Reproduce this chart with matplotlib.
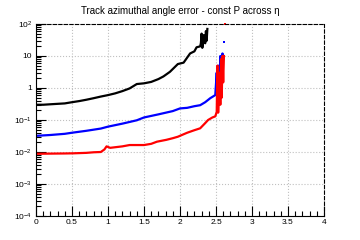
import numpy as np
import matplotlib.pyplot as plt
from matplotlib.ticker import LogLocator, MultipleLocator, NullFormatter

plt.rcParams['font.family'] = ['Liberation Sans', 'DejaVu Sans']
plt.rcParams['mathtext.fontset'] = 'custom'
plt.rcParams['mathtext.rm'] = 'Liberation Sans'
plt.rcParams['mathtext.it'] = 'Liberation Sans'

# black series (highest error)
eta_k = [0.0, 0.1, 0.2, 0.3, 0.4, 0.5, 0.6, 0.7, 0.8, 0.9, 1.0, 1.1, 1.2, 1.3,
         1.4, 1.5, 1.6, 1.7, 1.77, 1.86, 1.97, 2.05, 2.14, 2.2, 2.23, 2.28,
         2.29, 2.30, 2.31, 2.33, 2.35, 2.36, 2.37, 2.38]
err_k = [0.30, 0.30, 0.31, 0.32, 0.33, 0.36, 0.39, 0.43, 0.48, 0.54, 0.60, 0.68,
         0.80, 0.97, 1.33, 1.40, 1.55, 1.9, 2.3, 3.2, 5.6, 6.2, 12, 14, 18.7, 20,
         25, 50, 18, 45, 25, 60, 30, 70]

# blue series
eta_b = [0.0, 0.2, 0.4, 0.5, 0.7, 0.9, 1.0, 1.2, 1.4, 1.5, 1.7, 1.9, 2.0, 2.1,
         2.2, 2.28, 2.35, 2.42, 2.49, 2.51, 2.52, 2.53, 2.55, 2.56, 2.58, 2.59,
         2.60]
err_b = [0.032, 0.034, 0.037, 0.040, 0.046, 0.054, 0.062, 0.077, 0.098, 0.12,
         0.15, 0.19, 0.23, 0.24, 0.27, 0.29, 0.36, 0.48, 0.60, 3.0, 0.7, 5.0,
         1.5, 10, 4.0, 12, 8.0]
eta_b_pt = [2.61]
err_b_pt = [28]

# red series (lowest error)
eta_r = [0.0, 0.2, 0.4, 0.52, 0.7, 0.8, 0.9, 0.95, 0.98, 1.03, 1.2, 1.3, 1.5,
         1.6, 1.68, 1.81, 1.9, 1.97, 2.1, 2.2, 2.28, 2.35, 2.39, 2.45, 2.49,
         2.51, 2.52, 2.53, 2.55, 2.56, 2.57, 2.58, 2.59, 2.60, 2.61]
err_r = [0.0088, 0.0089, 0.0090, 0.0091, 0.0094, 0.0098, 0.010, 0.012, 0.015,
         0.0135, 0.015, 0.0165, 0.0165, 0.018, 0.021, 0.024, 0.027, 0.030,
         0.040, 0.048, 0.055, 0.080, 0.10, 0.12, 0.13, 0.18, 5.0, 0.17, 3.0,
         0.3, 8.0, 0.5, 10, 1.5, 10]
eta_r_pt = [2.63]
err_r_pt = [100]

xticks = [0, 0.5, 1, 1.5, 2, 2.5, 3, 3.5, 4]
xlabels = ['0', '0.5', '1', '1.5', '2', '2.5', '3', '3.5', '4']
yticks = [1e-4, 1e-3, 1e-2, 1e-1, 1, 10, 100]
ylabels = ['$10^{-4}$', '$10^{-3}$', '$10^{-2}$', '$10^{-1}$', '1', '10', '$10^{2}$']

fig = plt.figure(figsize=(3.6, 2.4), dpi=100)
ax = fig.add_axes([0.1, 0.1, 0.8, 0.8])

ax.plot(eta_k, err_k, color='black', lw=1.6)
ax.plot(eta_b, err_b, color='blue', lw=1.6)
ax.plot(eta_r, err_r, color='red', lw=1.6)
ax.plot(eta_b_pt, err_b_pt, 's', color='blue', ms=1.8, mew=0)
ax.plot(eta_r_pt, err_r_pt, 's', color='red', ms=1.8, mew=0, clip_on=False)

ax.set_yscale('log')
ax.set_xlim(0, 4)
ax.set_ylim(1e-4, 1e2)

ax.set_xticks(xticks)
ax.set_xticklabels(xlabels)
ax.xaxis.set_minor_locator(MultipleLocator(0.1))

ax.set_yticks(yticks)
ax.set_yticklabels(ylabels)
ax.yaxis.set_minor_locator(LogLocator(base=10, subs=np.arange(2, 10)))
ax.yaxis.set_minor_formatter(NullFormatter())

ax.tick_params(axis='both', which='major', direction='in', length=7, width=0.8,
               labelsize=6, top=False, right=False)
ax.tick_params(axis='both', which='minor', direction='in', length=3.5, width=0.8,
               top=False, right=False)
ax.tick_params(axis='x', pad=2)
ax.tick_params(axis='y', pad=3)

ax.grid(True, which='major', color='#c0c0c0', ls=':', lw=0.8)
for s in ['top', 'right']:
    ax.spines[s].set_linestyle((0, (3, 2)))
    ax.spines[s].set_linewidth(0.8)

ax.set_title('Track azimuthal angle error - const P across \u03b7', fontsize=7, pad=7)

fig.savefig('out.png', dpi=100)
